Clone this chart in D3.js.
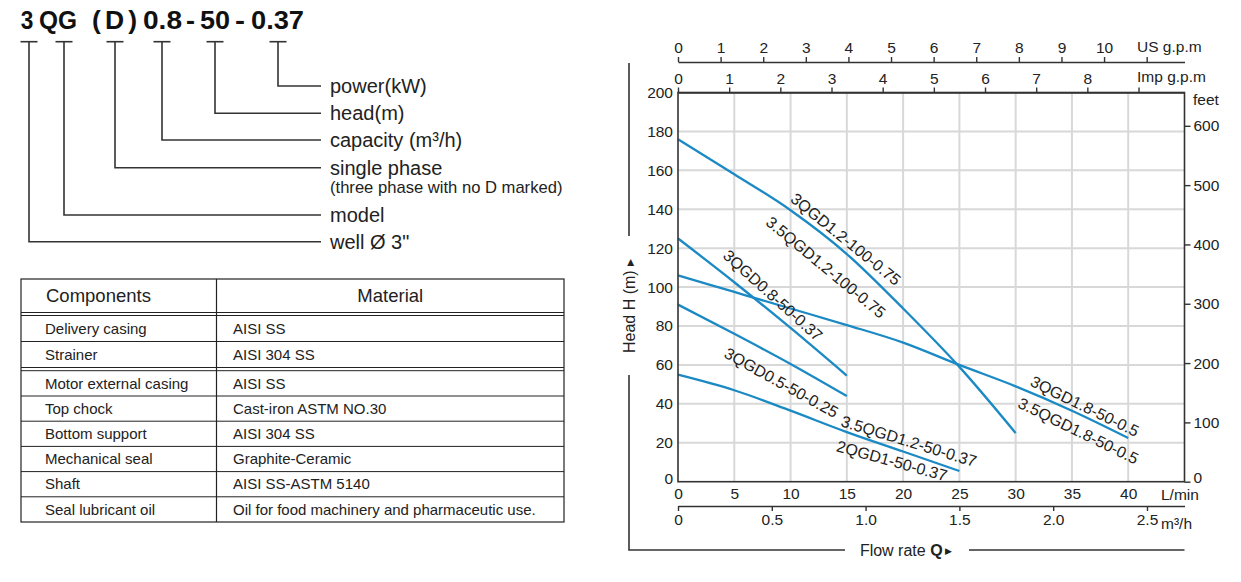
<!DOCTYPE html>
<html>
<head>
<meta charset="utf-8">
<script src="https://cdn.jsdelivr.net/npm/d3@7"></script>
<style>
  body { margin: 0; background: #fff; }
  svg { font-family: "Liberation Sans", Arial, Helvetica, sans-serif; }
</style>
</head>
<body>
<script>
// ---- model code legend ----
const codeParts = ["3", "QG", "(D)", "0.8", "-", "50", "-", "0.37"];
const codeMeanings = ["well Ø 3\"", "model", "single phase", "capacity (m³/h)", "head(m)", "power(kW)"];
const codeNote = "(three phase with no D marked)";

// ---- components table ----
const tableHead = ["Components", "Material"];
const components = ["Delivery casing", "Strainer", "Motor external casing", "Top chock",
                    "Bottom support", "Mechanical seal", "Shaft", "Seal lubricant oil"];
const materials = ["AISI SS", "AISI 304 SS", "AISI SS", "Cast-iron ASTM NO.30",
                   "AISI 304 SS", "Graphite-Ceramic", "AISI SS-ASTM 5140",
                   "Oil for food machinery and pharmaceutic use."];

// ---- performance curves (flow L/min, head m) ----
const flowA = [0, 5, 10, 15, 20, 25, 30];
const headA = [176, 158, 139.5, 117, 89, 59, 25];          // 3(3.5)QGD1.2-100-0.75
const flowB = [0, 5, 10, 15, 20, 25, 30, 35, 40];
const headB = [106, 97.5, 89, 80.5, 71.5, 60, 49, 36.5, 22.5]; // 3(3.5)QGD1.8-50-0.5
const flowC = [0, 5, 10, 15];
const headC = [125, 102.5, 79, 54.5];                     // 3QGD0.8-50-0.37
const flowD = [0, 5, 10, 15];
const headD = [91, 76, 60.5, 44];                         // 3QGD0.5-50-0.25
const flowE = [0, 5, 10, 15, 20, 25];
const headE = [55, 47, 36.5, 25.5, 15.5, 5.5];            // 3.5QGD1.2-50-0.37 / 2QGD1-50-0.37

const curveLabels = [
  { text: "3QGD1.2-100-0.75",   q: 9.9,  h: 144.4, angle: 39 },
  { text: "3.5QGD1.2-100-0.75", q: 7.7,  h: 132.4, angle: 39.5 },
  { text: "3QGD0.8-50-0.37",    q: 3.9,  h: 115.5, angle: 42 },
  { text: "3QGD0.5-50-0.25",    q: 4.0,  h: 64.2,  angle: 29 },
  { text: "3.5QGD1.2-50-0.37",  q: 14.4, h: 28.6,  angle: 17 },
  { text: "2QGD1-50-0.37",      q: 14.0, h: 15.8,  angle: 15.5 },
  { text: "3QGD1.8-50-0.5",     q: 31.2, h: 49.5,  angle: 26 },
  { text: "3.5QGD1.8-50-0.5",   q: 30.1, h: 38.4,  angle: 26 }
];

// axis ticks
const lminTicks = d3.range(0, 45, 5);
const headTicks = d3.range(0, 201, 20);
const impTicks = d3.range(0, 10);
const usTicks = d3.range(0, 12);
const m3hTicks = [0, 0.5, 1.0, 1.5, 2.0, 2.5];
const feetTicks = d3.range(0, 601, 100);

const W = 1241, H = 582;
const ink = "#222", lineCol = "#333", blue = "#1b8ac4", gridCol = "#d8d8d8";

const svg = d3.select("body").append("svg")
  .attr("width", W).attr("height", H)
  .style("background", "#fff");

// ================= model code =================
const codeX = [20.7, 39, 92, 143, 186, 200, 235, 251];
const codeW = [12.6, 38, 45, 39, 9, 30, 10, 53];
svg.append("g").selectAll("text")
  .data(codeParts).enter().append("text")
  .attr("x", (d, i) => codeX[i])
  .attr("y", 28.5)
  .attr("font-size", 26.5).attr("font-weight", "bold").attr("fill", "#111")
  .attr("textLength", (d, i) => codeW[i])
  .attr("lengthAdjust", (d, i) => d === "(D)" ? "spacing" : "spacingAndGlyphs")
  .text(d => d);

// bracket lines: vertical x for each meaning and the level of its horizontal
const brX = [29, 64, 115, 162, 215, 278];
const brY = [241.7, 215, 167.7, 140, 113.3, 86];
const brG = svg.append("g").attr("stroke", lineCol).attr("stroke-width", 1.6).attr("fill", "none");
brX.forEach((bx, i) => {
  brG.append("path").attr("d", `M${bx - 8.5},41.7H${bx + 8.5}`);
  brG.append("path").attr("d", `M${bx},41.7V${brY[i]}H321`);
});
svg.append("g").selectAll("text")
  .data(codeMeanings).enter().append("text")
  .attr("x", 330).attr("y", (d, i) => brY[i] + 6.8)
  .attr("font-size", 20).attr("fill", ink)
  .text(d => d);
svg.append("text").attr("x", 330).attr("y", 192.5)
  .attr("font-size", 16.6).attr("fill", ink).text(codeNote);

// ================= table =================
const tL = 21, tR = 564, tMid = 216.5;
const headTop = 279, headBot = 312.5;
const rowTops = [315.5, 341.5, 370.7, 396, 421.2, 446.4, 471.6, 496.8];
const rowBots = [341.5, 367.5, 396, 421.2, 446.4, 471.6, 496.8, 522];
const tg = svg.append("g");
tg.append("rect").attr("x", tL).attr("y", headTop).attr("width", tR - tL).attr("height", 522 - headTop)
  .attr("fill", "none").attr("stroke", ink).attr("stroke-width", 1.2);
tg.append("line").attr("x1", tMid).attr("x2", tMid).attr("y1", headTop).attr("y2", 522)
  .attr("stroke", ink).attr("stroke-width", 1.2);
const hLines = [headBot, 315.5, 341.5, 367.5, 370.7, 396, 421.2, 446.4, 471.6, 496.8];
tg.selectAll("line.h").data(hLines).enter().append("line").attr("class", "h")
  .attr("x1", tL).attr("x2", tR).attr("y1", d => d).attr("y2", d => d)
  .attr("stroke", ink).attr("stroke-width", 1);
tg.append("text").attr("x", 46).attr("y", (headTop + headBot) / 2 + 6.5)
  .attr("font-size", 18.5).attr("fill", ink).text(tableHead[0]);
tg.append("text").attr("x", (tMid + tR) / 2).attr("y", (headTop + headBot) / 2 + 6.5)
  .attr("text-anchor", "middle").attr("font-size", 18.5).attr("fill", ink).text(tableHead[1]);
tg.selectAll("text.c").data(components).enter().append("text").attr("class", "c")
  .attr("x", 45).attr("y", (d, i) => (rowTops[i] + rowBots[i]) / 2 + 5.2)
  .attr("font-size", 15).attr("fill", ink).text(d => d);
tg.selectAll("text.m").data(materials).enter().append("text").attr("class", "m")
  .attr("x", 233).attr("y", (d, i) => (rowTops[i] + rowBots[i]) / 2 + 5.2)
  .attr("font-size", 15).attr("fill", ink).text(d => d);

// ================= chart =================
const x = d3.scaleLinear().domain([0, 45]).range([678, 1184.5]);
const y = d3.scaleLinear().domain([0, 200]).range([481.7, 92.5]);
const imp = d3.scaleLinear().domain([0, 45 / 4.54609]).range(x.range());
const us = d3.scaleLinear().domain([0, 45 / 3.78541]).range(x.range());
const m3h = d3.scaleLinear().domain([0, 45 * 60 / 1000]).range(x.range());
const feet = d3.scaleLinear().domain([0, 200 / 0.3048]).range(y.range());

const chart = svg.append("g");

// grid
chart.append("g").selectAll("line")
  .data(lminTicks.filter(d => d > 0)).enter().append("line")
  .attr("x1", d => x(d)).attr("x2", d => x(d)).attr("y1", y(0)).attr("y2", y(200))
  .attr("stroke", gridCol).attr("stroke-width", 2);
chart.append("g").selectAll("line")
  .data(headTicks.filter(d => d > 0 && d < 200)).enter().append("line")
  .attr("x1", x(0)).attr("x2", x(45)).attr("y1", d => y(d)).attr("y2", d => y(d))
  .attr("stroke", gridCol).attr("stroke-width", 2);

// curves
const line = d3.line().x(d => x(d[0])).y(d => y(d[1])).curve(d3.curveMonotoneX);
const curves = [[flowA, headA], [flowB, headB], [flowC, headC], [flowD, headD], [flowE, headE]];
chart.append("g").selectAll("path")
  .data(curves).enter().append("path")
  .attr("d", c => line(c[0].map((q, i) => [q, c[1][i]])))
  .attr("fill", "none").attr("stroke", blue).attr("stroke-width", 2.3);

// curve labels
chart.append("g").selectAll("text")
  .data(curveLabels).enter().append("text")
  .attr("transform", d => `translate(${x(d.q)},${y(d.h)}) rotate(${d.angle})`)
  .attr("font-size", 16).attr("fill", ink)
  .text(d => d.text);

// plot border
chart.append("rect")
  .attr("x", x(0)).attr("y", y(200)).attr("width", x(45) - x(0)).attr("height", y(0) - y(200))
  .attr("fill", "none").attr("stroke", lineCol).attr("stroke-width", 1.6);

function styleAxis(g) {
  g.selectAll("path.domain").attr("stroke", lineCol).attr("stroke-width", 1.6);
  g.selectAll(".tick line").attr("stroke", lineCol).attr("stroke-width", 1.4);
  g.selectAll("text").attr("fill", ink).attr("font-size", 15.5)
    .attr("font-family", "'Liberation Sans', Arial, sans-serif");
}

// left head axis
chart.append("g").attr("transform", `translate(${x(0)},0)`)
  .call(d3.axisLeft(y).tickValues(headTicks).tickSize(0).tickPadding(5))
  .call(styleAxis).call(g => g.select(".domain").remove())
  .call(g => g.selectAll(".tick text").filter(d => d === 0).attr("dy", "0.1em"));

// bottom L/min axis
chart.append("g").attr("transform", `translate(0,${y(0)})`)
  .call(d3.axisBottom(x).tickValues(lminTicks).tickSize(0).tickPadding(6))
  .call(styleAxis).call(g => g.select(".domain").remove());
chart.append("text").attr("x", 1161).attr("y", 500).attr("font-size", 15.5).attr("fill", ink).text("L/min");

// top Imp g.p.m axis
chart.append("g").attr("transform", `translate(0,${y(200)})`)
  .call(d3.axisTop(imp).tickValues(impTicks).tickSize(5).tickSizeOuter(0).tickPadding(4)
    .tickFormat(d => d <= 8 ? d : ""))
  .call(styleAxis);
chart.append("text").attr("x", 1137).attr("y", 82).attr("font-size", 15.5).attr("fill", ink).text("Imp g.p.m");

// top US g.p.m axis
chart.append("g").attr("transform", "translate(0,62)")
  .call(d3.axisTop(us).tickValues(usTicks).tickSize(5).tickSizeOuter(0).tickPadding(4)
    .tickFormat(d => d <= 10 ? d : ""))
  .call(styleAxis);
chart.append("text").attr("x", 1137).attr("y", 52).attr("font-size", 15.5).attr("fill", ink).text("US g.p.m");

// bottom m3/h axis
chart.append("g").attr("transform", "translate(0,506)")
  .call(d3.axisBottom(m3h).tickValues(m3hTicks).tickSize(5).tickSizeOuter(0).tickPadding(3)
    .tickFormat(d => d === 0 ? "0" : d3.format(".1f")(d)))
  .call(styleAxis);
chart.append("text").attr("x", 1161).attr("y", 529).attr("font-size", 15.5).attr("fill", ink).text("m³/h");

// right feet axis
chart.append("g").attr("transform", `translate(${x(45)},0)`)
  .call(d3.axisRight(feet).tickValues(feetTicks).tickSize(6).tickSizeOuter(0).tickPadding(3))
  .call(styleAxis).call(g => g.select(".domain").remove())
  .call(g => g.selectAll(".tick text").filter(d => d === 0).attr("dy", "0.05em"));
chart.append("text").attr("x", 1193).attr("y", 105).attr("font-size", 15.5).attr("fill", ink).text("feet");

// outer frame with axis titles
chart.append("path")
  .attr("d", "M629,63V236M629,375V550H845M969,550H1184.5")
  .attr("fill", "none").attr("stroke", lineCol).attr("stroke-width", 1.6);
const yTitle = chart.append("text")
  .attr("transform", "translate(634.5,306) rotate(-90)")
  .attr("text-anchor", "middle").attr("font-size", 16).attr("fill", ink);
yTitle.append("tspan").text("Head H (m) ");
yTitle.append("tspan").attr("font-size", 9).attr("dy", -2).text("▶");
const xTitle = chart.append("text")
  .attr("x", 906).attr("y", 556)
  .attr("text-anchor", "middle").attr("font-size", 16).attr("fill", ink);
xTitle.append("tspan").text("Flow rate ");
xTitle.append("tspan").attr("font-weight", "bold").text("Q");
xTitle.append("tspan").attr("font-size", 9).attr("dy", -2).text(" ▶");
</script>
</body>
</html>
